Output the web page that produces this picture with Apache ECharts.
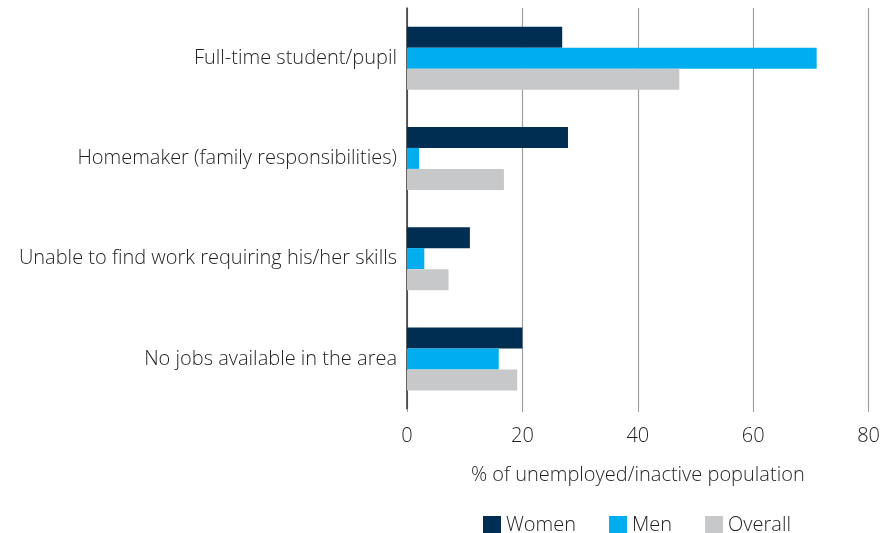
<!DOCTYPE html>
<html><head><meta charset="utf-8">
<script src="https://cdn.jsdelivr.net/npm/echarts@6/dist/echarts.min.js"></script>
<style>html,body{margin:0;padding:0;background:#fff}#c{width:883px;height:533px}</style>
</head><body><div id="c"></div>
<script>
const categories = ["Full-time student/pupil", "Homemaker (family responsibilities)", "Unable to find work requiring his/her skills", "No jobs available in the area"];
const women = [26.9, 27.9, 10.9, 20.0];
const men = [71.0, 2.1, 3.0, 15.9];
const overall = [47.2, 16.8, 7.2, 19.1];
const xTicks = [0, 20, 40, 60, 80];

const FONT = "Open Sans";
const TXT = "#231f20";
const FW = 300;
const FS = 20;
const chart = echarts.init(document.getElementById('c'), null, {renderer: 'canvas'});
chart.setOption({
  animation: false,
  textStyle: {fontFamily: FONT},
  grid: {left: 407, right: 13, top: 8, bottom: 124, containLabel: false},
  legend: {
    data: ["Women", "Men", "Overall"],
    left: 478, top: 510,
    itemWidth: 18, itemHeight: 18, itemGap: 33, 
    icon: 'rect',
    textStyle: {fontFamily: FONT, fontSize: FS, color: TXT, fontWeight: FW}
  },
  xAxis: {
    type: 'value', min: xTicks[0], max: xTicks[xTicks.length - 1], interval: 20,
    name: "% of unemployed/inactive population",
    nameLocation: 'middle', nameGap: 56,
    nameTextStyle: {fontFamily: FONT, fontSize: FS, color: TXT, fontWeight: FW},
    axisLine: {show: false},
    axisTick: {show: true, length: 3, lineStyle: {color: '#a0a0a0'}},
    axisLabel: {margin: 17, fontFamily: FONT, fontSize: FS, color: TXT, fontWeight: FW},
    splitLine: {show: true, lineStyle: {color: '#a0a0a0', width: 1.2}}
  },
  yAxis: {
    type: 'category', data: categories, inverse: true,
    axisLine: {show: true, lineStyle: {color: '#333', width: 1.5}},
    axisTick: {show: false},
    axisLabel: {margin: 10, fontFamily: FONT, fontSize: FS, color: TXT, fontWeight: FW}
  },
  series: [
    {name: "Women", type: 'bar', data: women, barWidth: 21, barGap: '0%', itemStyle: {color: '#002d52'}},
    {name: "Men", type: 'bar', data: men, barWidth: 21, barGap: '0%', itemStyle: {color: '#00aeef'}},
    {name: "Overall", type: 'bar', data: overall, barWidth: 21, barGap: '0%', itemStyle: {color: '#c7c8ca'}}
  ]
});
</script>
</body></html>
